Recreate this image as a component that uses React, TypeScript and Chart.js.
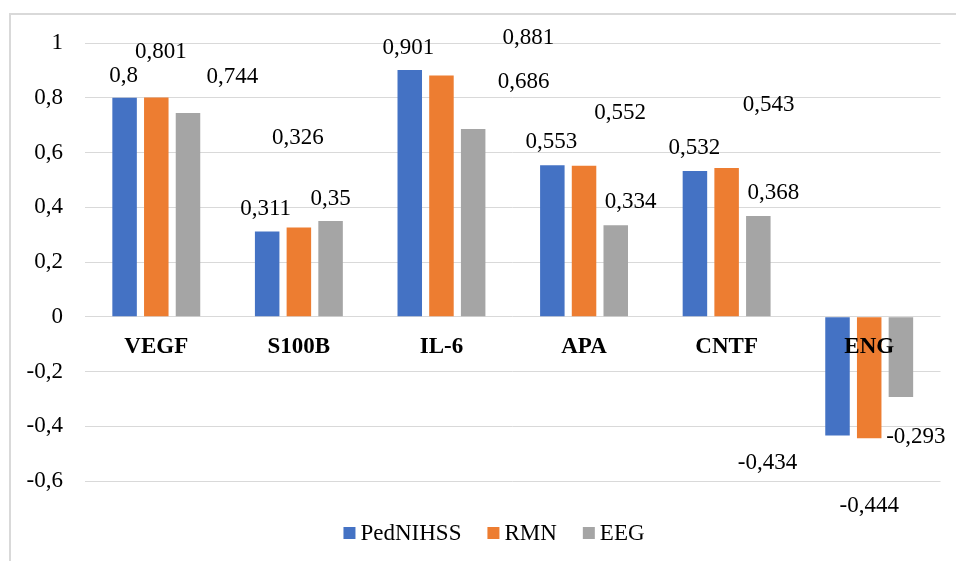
import React, { useEffect, useRef } from "react";
import { Chart, registerables } from "chart.js";

Chart.register(...registerables);

const categories = ["VEGF", "S100B", "IL-6", "APA", "CNTF", "ENG"];
const seriesNames = ["PedNIHSS", "RMN", "EEG"];
const pedNIHSS = [0.8, 0.311, 0.901, 0.553, 0.532, -0.434];
const rmn = [0.801, 0.326, 0.881, 0.552, 0.543, -0.444];
const eeg = [0.744, 0.35, 0.686, 0.334, 0.368, -0.293];
const yTicks = [-0.6, -0.4, -0.2, 0, 0.2, 0.4, 0.6, 0.8, 1];

const colors = ["#4472C4", "#ED7D31", "#A5A5A5"];
const FONT = '"Liberation Serif", "Times New Roman", serif';

// label placement offsets (px) relative to each bar's end, per series
const labelOffsets = [
  [[-1, -24], [-1.5, -25], [-1.5, -24], [-1, -25], [-0.5, -25], [-70, 25]],
  [[4.5, -47], [-1, -92], [87, -40], [36, -55], [42, -65], [0, 66]],
  [[44.5, -38], [0, -24], [50.5, -49], [15, -25], [15, -25], [15, 38]],
];

const fmt = (v: number) => String(Math.round(v * 1000) / 1000).replace(".", ",");

const LEGEND_CENTER_X = 494;
const LEGEND_BOX_TOP = 527;
const LEGEND_BASELINE = 540;

const overlayPlugin = {
  id: "overlay",
  afterDatasetsDraw(chart: any) {
    const ctx = chart.ctx as CanvasRenderingContext2D;
    const xs = chart.scales.x;
    const ys = chart.scales.y;
    ctx.save();
    ctx.fillStyle = "#000";
    ctx.textBaseline = "alphabetic";
    ctx.textAlign = "center";

    // category labels next to the zero line
    ctx.font = `bold 23px ${FONT}`;
    const y0 = ys.getPixelForValue(0);
    categories.forEach((c, i) => {
      ctx.fillText(c, xs.getPixelForValue(i), y0 + 36);
    });

    // data labels
    ctx.font = `23px ${FONT}`;
    chart.data.datasets.forEach((ds: any, di: number) => {
      const meta = chart.getDatasetMeta(di);
      meta.data.forEach((bar: any, i: number) => {
        const [dx, dy] = labelOffsets[di][i];
        ctx.fillText(fmt(ds.data[i]), bar.x + dx, bar.y + dy + 8);
      });
    });

    // legend
    ctx.font = `23px ${FONT}`;
    ctx.textAlign = "left";
    const box = 12;
    const boxGap = 5;
    const itemGap = 26;
    const widths = chart.data.datasets.map((ds: any) => ctx.measureText(ds.label).width);
    const total =
      widths.reduce((a: number, w: number) => a + box + boxGap + w, 0) +
      itemGap * (widths.length - 1);
    let x = LEGEND_CENTER_X - total / 2;
    chart.data.datasets.forEach((ds: any, di: number) => {
      ctx.fillStyle = ds.backgroundColor;
      ctx.fillRect(x, LEGEND_BOX_TOP, box, box);
      ctx.fillStyle = "#000";
      ctx.fillText(ds.label, x + box + boxGap, LEGEND_BASELINE);
      x += box + boxGap + widths[di] + itemGap;
    });
    ctx.restore();
  },
};

export default function App() {
  const canvasRef = useRef<HTMLCanvasElement | null>(null);

  useEffect(() => {
    const canvas = canvasRef.current;
    if (!canvas) return;
    const seriesData = [pedNIHSS, rmn, eeg];
    const chart = new Chart(canvas, {
      type: "bar",
      data: {
        labels: categories,
        datasets: seriesNames.map((name, i) => ({
          label: name,
          data: seriesData[i],
          backgroundColor: colors[i],
          borderWidth: 0,
          categoryPercentage: 0.667,
          barPercentage: 0.773,
        })),
      },
      options: {
        animation: false,
        responsive: false,
        devicePixelRatio: 1,
        layout: { padding: { left: 0, top: 43, right: 15.5, bottom: 80 } },
        plugins: {
          legend: { display: false },
          tooltip: { enabled: false },
        },
        scales: {
          x: {
            type: "category",
            display: false,
            offset: true,
            grid: { display: false },
          },
          y: {
            min: -0.6,
            max: 1,
            afterBuildTicks: (s: any) => {
              s.ticks = yTicks.map((v) => ({ value: v }));
            },
            afterFit: (s: any) => {
              s.width = 85;
            },
            border: { display: false },
            grid: { color: "#d9d9d9", lineWidth: 1, drawTicks: false },
            ticks: {
              padding: 22,
              color: "#000",
              font: { family: FONT, size: 23 },
              callback: (v: any) => fmt(Number(v)),
            },
          },
        },
      },
      plugins: [overlayPlugin],
    } as any);
    return () => chart.destroy();
  }, []);

  return (
    <div
      style={{
        position: "fixed",
        left: 0,
        top: 0,
        width: 956,
        height: 561,
        overflow: "hidden",
        background: "#fff",
      }}
    >
      <div
        style={{
          position: "absolute",
          left: 9,
          top: 13,
          width: 1000,
          height: 600,
          border: "2px solid #d9d9d9",
        }}
      />
      <canvas
        ref={canvasRef}
        width={956}
        height={561}
        style={{ position: "absolute", left: 0, top: 0, display: "block" }}
      />
    </div>
  );
}
